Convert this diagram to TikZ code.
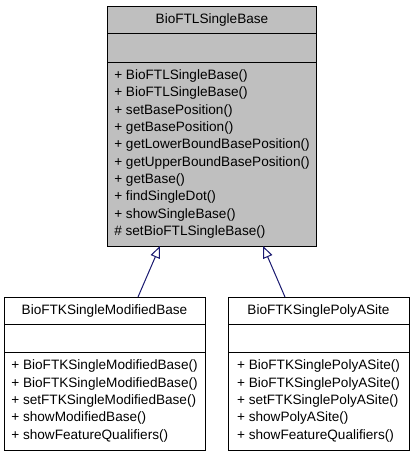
\documentclass[tikz,border=0pt]{standalone}
\usepackage{fontspec}
\setmainfont{Liberation Sans}
\usetikzlibrary{positioning,arrows.meta}
\definecolor{basegray}{HTML}{BFBFBF}
\definecolor{inheritblue}{HTML}{191970}

\begin{document}
\begin{tikzpicture}[x=1pt,y=-1pt,font=\fontsize{13.6}{17.3}\selectfont,
  part/.style={draw=black,line width=1pt,inner xsep=0pt,inner ysep=0pt,outer sep=0pt},
  opspart/.style={part,align=left},
  inherit/.style={draw=inheritblue,line width=1pt,-{Triangle[length=12pt,width=10pt,fill=white]}}]
\useasboundingbox (0,0) rectangle (413,456);
% parent class
\node[part,fill=basegray,minimum width=209pt,minimum height=27pt] (base) at (212,19.5) {BioFTLSingleBase};
\node[part,fill=basegray,minimum width=209pt,minimum height=29pt,below=0pt of base] (baseattr) {};
\node[opspart,fill=basegray,minimum width=209pt,minimum height=184pt,below=0pt of baseattr] (baseops)
  {+ BioFTLSingleBase()\\+ BioFTLSingleBase()\\+ setBasePosition()\\+ getBasePosition()\\
   + getLowerBoundBasePosition()\\+ getUpperBoundBasePosition()\\+ getBase()\\
   + findSingleDot()\\+ showSingleBase()\\\# setBioFTLSingleBase()};
% derived classes
\node[part,fill=white,minimum width=201pt,minimum height=27pt] (modbase) at (104.5,310.5) {BioFTKSingleModifiedBase};
\node[part,fill=white,minimum width=201pt,minimum height=28pt,below=0pt of modbase] (modbaseattr) {};
\node[opspart,fill=white,minimum width=201pt,minimum height=98pt,below=0pt of modbaseattr] (modbaseops)
  {+ BioFTKSingleModifiedBase()\\+ BioFTKSingleModifiedBase()\\+ setFTKSingleModifiedBase()\\
   + showModifiedBase()\\+ showFeatureQualifiers()};
\node[part,fill=white,minimum width=181pt,minimum height=27pt] (polya) at (318.5,310.5) {BioFTKSinglePolyASite};
\node[part,fill=white,minimum width=181pt,minimum height=28pt,below=0pt of polya] (polyaattr) {};
\node[opspart,fill=white,minimum width=181pt,minimum height=98pt,below=0pt of polyaattr] (polyaops)
  {+ BioFTKSinglePolyASite()\\+ BioFTKSinglePolyASite()\\+ setFTKSinglePolyASite()\\
   + showPolyASite()\\+ showFeatureQualifiers()};
% inheritance
\draw[inherit] ([xshift=33.5pt]modbase.north) -- ([xshift=-52pt]baseops.south);
\draw[inherit] ([xshift=-33.5pt]polya.north) -- ([xshift=51pt]baseops.south);
\end{tikzpicture}
\end{document}
